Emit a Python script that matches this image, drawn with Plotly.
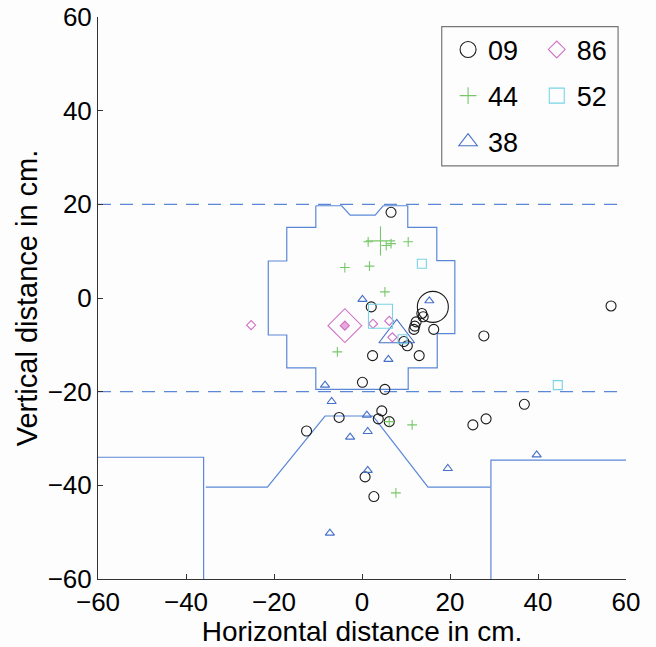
import plotly.graph_objects as go

# ---------------- data ----------------
# Series "09" (black circles)
s09_x = [6.6, 2.1, 13.6, 13.9, 12.3, 12.0, 11.8, 16.3, 9.5, 10.3, 2.4, 13.0,
         0.1, 5.2, 4.5, 3.7, 6.2, -5.2, -12.6, 25.2, 28.2, 36.9, 0.7, 2.7, 27.7, 56.6]
s09_y = [18.3, -1.9, -3.3, -4.0, -5.1, -6.0, -6.7, -6.7, -9.3, -10.2, -12.3, -12.3,
         -18.0, -19.5, -24.1, -25.8, -26.4, -25.5, -28.4, -27.1, -25.8, -22.7, -38.2, -42.4, -8.1, -1.7]
s09_mean = [16.1, -1.9]

# Series "44" (green crosses)
s44_x = [1.4, 10.5, 5.5, 6.6, -3.9, 1.7, 5.2, -5.6, 6.2, 11.4, 7.7]
s44_y = [12.0, 12.0, 11.2, 11.6, 6.5, 6.8, 1.3, -11.5, -26.4, -27.1, -41.6]
s44_mean = [4.2, 12.2]

# Series "38" (blue triangles)
s38_x = [0.1, 15.3, 6.0, -8.4, -6.9, -2.7, 1.1, 1.3, 1.3, -7.3, 19.5, 39.7]
s38_y = [-0.3, -0.6, -13.1, -18.6, -22.1, -29.7, -25.0, -28.5, -36.8, -50.2, -36.4, -33.5]
s38_mean = [7.9, -7.9]

# Series "86" (magenta diamonds)
s86_x = [2.5, 6.2, 6.9, -25.2]
s86_y = [-5.5, -4.9, -8.4, -5.8]
s86_mean = [-3.9, -5.9]

# Series "52" (cyan squares)
s52_x = [13.6, 9.2, 44.5]
s52_y = [7.3, -8.8, -18.6]
s52_mean = [4.2, -3.9]

# Outlines
head_x = [-10.5, -4.6, -2.7, 3.0, 4.8, 10.4, 10.4, 17.0, 17.0, 21.1, 21.1, 17.1, 17.1,
          10.5, 10.5, -10.5, -10.5, -17.1, -17.1, -21.3, -21.3, -17.1, -17.1, -10.5, -10.5]
head_y = [19.7, 19.7, 17.7, 17.7, 19.7, 19.7, 15.1, 15.1, 8.0, 8.0, -7.6, -7.6, -14.9,
          -14.9, -19.5, -19.5, -14.9, -14.9, -7.9, -7.9, 7.9, 7.9, 15.1, 15.1, 19.7]
low_left_x = [-60, -36, -36]
low_left_y = [-34, -34, -60]
low_mid_x = [-35.5, -21.5, -8.4, 2.5, 15.0, 29.2]
low_mid_y = [-40.4, -40.4, -25.2, -25.2, -40.4, -40.4]
low_right_x = [29.3, 29.3, 60]
low_right_y = [-60, -34.6, -34.6]
dash_levels = [20, -20]

ticks = [-60, -40, -20, 0, 20, 40, 60]

# ---------------- styles ----------------
FONT = "Liberation Sans, Arial, Helvetica, sans-serif"
LINE_BLUE = "#5b88d6"
C09 = "#1a1a1a"
C44 = "#78c86a"
C38 = "#4570c8"
C86 = "#d070c4"
C52 = "#78d4e6"

fig = go.Figure()

def line(x, y, dash="solid"):
    fig.add_trace(go.Scatter(x=x, y=y, mode="lines", showlegend=False, hoverinfo="skip",
                             line=dict(color=LINE_BLUE, width=1.2, dash=dash)))

line(head_x, head_y)
line(low_left_x, low_left_y)
line(low_mid_x, low_mid_y)
line(low_right_x, low_right_y)
for lv in dash_levels:
    line([-60, 60], [lv, lv], dash="13px,9px")

def pts(x, y, symbol, color, size, fill=None):
    fig.add_trace(go.Scatter(
        x=x, y=y, mode="markers", showlegend=False,
        marker=dict(symbol=symbol, size=size, color=fill if fill else "rgba(0,0,0,0)",
                    line=dict(color=color, width=1.1))))

pts(s09_x, s09_y, "circle", C09, 10)
pts([s09_mean[0]], [s09_mean[1]], "circle", C09, 31)
pts(s44_x, s44_y, "cross-thin", C44, 7)
pts([s44_mean[0]], [s44_mean[1]], "cross-thin", C44, 21)
pts(s38_x, s38_y, "triangle-up", C38, 8)
pts([s38_mean[0]], [s38_mean[1]], "triangle-up", C38, 31)
pts(s86_x, s86_y, "diamond", C86, 7)
pts([s86_mean[0]], [s86_mean[1]], "diamond", C86, 26)
pts([s86_mean[0]], [s86_mean[1]], "diamond", C86, 7, fill="#e8a8dc")
pts(s52_x, s52_y, "square", C52, 9)
pts([s52_mean[0]], [s52_mean[1]], "square", C52, 24)

# legend entries (two columns)
def leg(name, symbol, color, legend, size=16):
    fig.add_trace(go.Scatter(
        x=[None], y=[None], mode="markers", name=name, legend=legend, legendgroup=name,
        marker=dict(symbol=symbol, size=size, color="rgba(0,0,0,0)",
                    line=dict(color=color, width=1.1))))

leg("09", "circle", C09, "legend")
leg("44", "cross-thin", C44, "legend", 12)
leg("38", "triangle-up", C38, "legend")
leg("86", "diamond", C86, "legend2", 13)
leg("52", "square", C52, "legend2", 15)

legend_common = dict(font=dict(family=FONT, size=27, color="#000"), bgcolor="rgba(0,0,0,0)",
                     borderwidth=0, tracegroupgap=8, yanchor="top", xanchor="left",
                     itemsizing="trace")

fig.update_layout(
    width=656, height=647,
    margin=dict(l=98, r=30, t=17, b=68),
    paper_bgcolor="#fdfdfe", plot_bgcolor="#fdfdfe",
    font=dict(family=FONT, size=27, color="#000"),
    legend=dict(x=0.663, y=0.985, **legend_common),
    legend2=dict(x=0.831, y=0.985, **legend_common),
    shapes=[dict(type="rect", xref="paper", yref="paper", x0=0.651, x1=0.985, y0=0.735, y1=0.983,
                 line=dict(color="#777", width=1.2), fillcolor="rgba(0,0,0,0)")],
    xaxis=dict(range=[-60, 60], tickvals=ticks, ticks="inside", ticklen=5, tickcolor="#333",
               showline=True, linecolor="#333", linewidth=1, showgrid=False, zeroline=False,
               automargin=False,
               tickfont=dict(size=26), title=dict(text="Horizontal distance in cm.", font=dict(size=28), standoff=3)),
    yaxis=dict(range=[-60, 60], tickvals=ticks, ticks="inside", ticklen=5, tickcolor="#333",
               showline=True, linecolor="#333", linewidth=1, showgrid=False, zeroline=False,
               automargin=False,
               tickfont=dict(size=26), title=dict(text="Vertical distance in cm.", font=dict(size=29), standoff=1)),
)

fig.write_html("out.html")
